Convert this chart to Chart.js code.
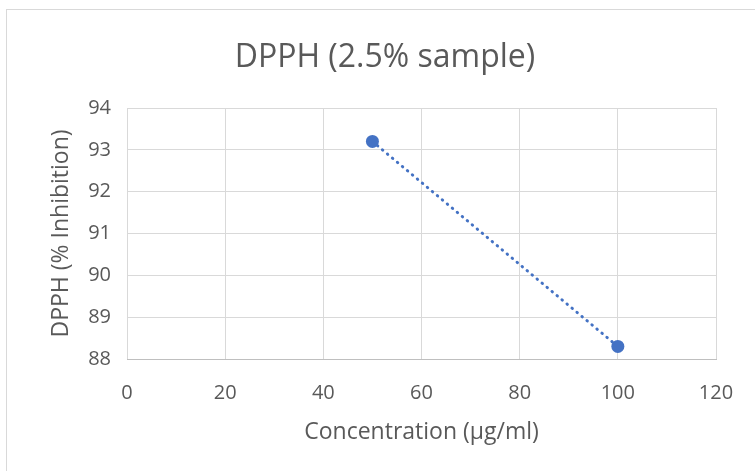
<!DOCTYPE html>
<html>
<head>
<meta charset="utf-8">
<script src="https://cdn.jsdelivr.net/npm/chart.js@4/dist/chart.umd.min.js"></script>
<style>
html,body{margin:0;padding:0;background:#fff;overflow:hidden;width:755px;height:471px;}
canvas{display:block;}
</style>
</head>
<body>
<canvas id="c" width="770" height="471" style="width:770px;height:471px"></canvas>
<script>
const concentrations = [50, 100];
const inhibition = [93.2, 88.3];
const xTicks = [0, 20, 40, 60, 80, 100, 120];
const yTicks = [88, 89, 90, 91, 92, 93, 94];
const chartTitle = 'DPPH (2.5% sample)';
const xTitle = 'Concentration (µg/ml)';
const yTitle = 'DPPH (% Inhibition)';

const FONT = "'Open Sans', 'DejaVu Sans', sans-serif";
const TXT = '#595959';
const BLUE = '#4472C4';

const borderPlugin = {
  id: 'outerBorder',
  beforeDraw(chart) {
    const ctx = chart.ctx;
    ctx.save();
    ctx.fillStyle = '#fff';
    ctx.fillRect(0, 0, chart.width, chart.height);
    ctx.strokeStyle = '#d9d9d9';
    ctx.lineWidth = 1;
    ctx.strokeRect(6.5, 9.5, 758, 470);
    ctx.restore();
  }
};

new Chart(document.getElementById('c'), {
  type: 'scatter',
  data: {
    datasets: [{
      data: concentrations.map((x, i) => ({x: x, y: inhibition[i]})),
      showLine: true,
      borderColor: BLUE,
      borderWidth: 3,
      borderDash: [0.5, 6],
      borderCapStyle: 'round',
      backgroundColor: BLUE,
      pointBackgroundColor: BLUE,
      pointBorderColor: BLUE,
      pointRadius: 6.5,
      pointBorderWidth: 0
    }]
  },
  options: {
    responsive: false,
    animation: false,
    devicePixelRatio: 1,
    layout: { padding: 0 },
    plugins: {
      legend: { display: false },
      tooltip: { enabled: false },
      title: {
        display: true,
        text: chartTitle,
        color: TXT,
        font: { family: FONT, size: 32, weight: 'normal', lineHeight: 1.2 },
        padding: { top: 38.8, bottom: 30.8 }
      }
    },
    scales: {
      x: {
        type: 'linear',
        min: 0, max: 120,
        afterBuildTicks(s) { s.ticks = xTicks.map(v => ({value: v})); },
        afterFit(s) { s.height = 471 - 359; },
        grid: { color: '#d9d9d9', lineWidth: 1, drawTicks: false },
        border: { display: true, color: '#bfbfbf', width: 1 },
        ticks: { color: TXT, font: { family: FONT, size: 20 }, padding: 22, maxRotation: 0 },
        title: { display: true, text: xTitle, color: TXT, font: { family: FONT, size: 23 }, padding: { top: 0, bottom: 25 } }
      },
      y: {
        type: 'linear',
        min: 88, max: 94,
        afterBuildTicks(s) { s.ticks = yTicks.map(v => ({value: v})); },
        afterFit(s) { s.width = 127; },
        grid: { color: '#d9d9d9', lineWidth: 1, drawTicks: false },
        border: { display: false },
        ticks: { color: TXT, font: { family: FONT, size: 20 }, padding: 16 },
        title: { display: true, text: yTitle, color: TXT, font: { family: FONT, size: 23 }, padding: { top: 48, bottom: 0 } }
      },
      yRight: {
        type: 'linear',
        position: 'right',
        min: 88, max: 94,
        afterFit(s) { s.width = 54; },
        grid: { display: false, drawTicks: false },
        border: { display: false },
        ticks: { display: false },
        title: { display: false }
      }
    }
  },
  plugins: [borderPlugin]
});
</script>
</body>
</html>
